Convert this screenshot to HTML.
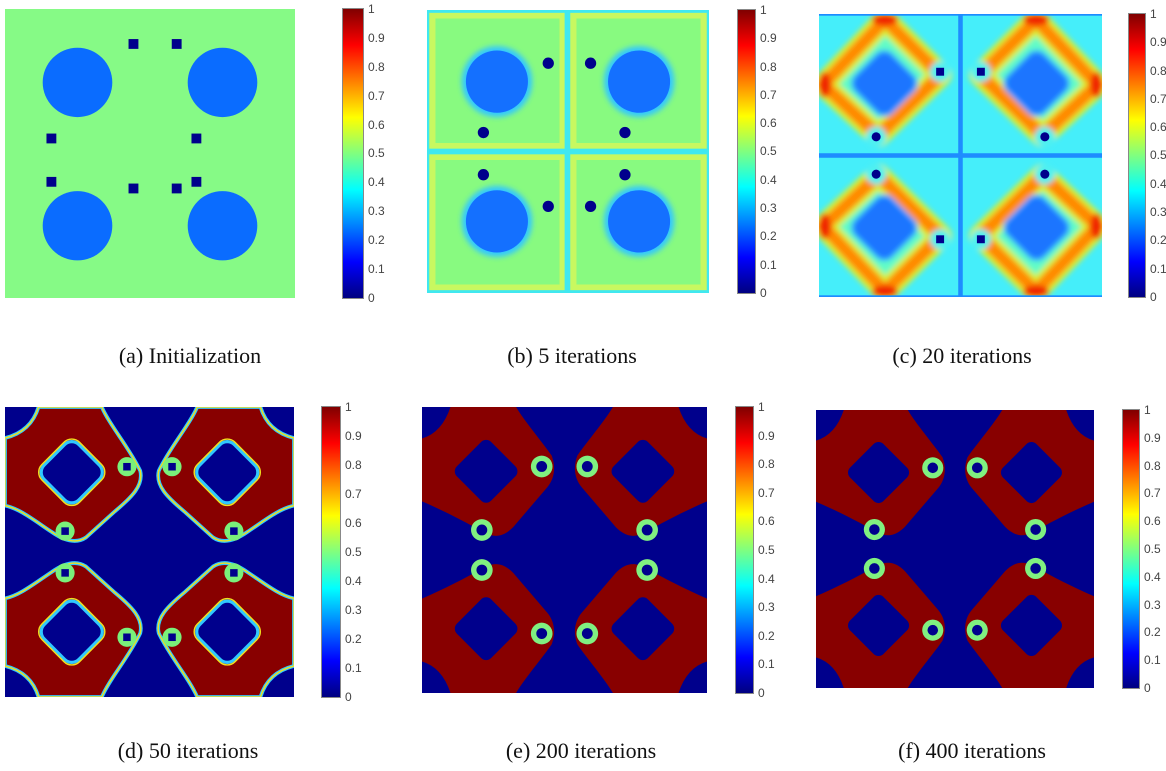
<!DOCTYPE html>
<html><head><meta charset="utf-8">
<style>
body{margin:0;background:#fff;width:1166px;height:771px;position:relative;overflow:hidden;font-family:"Liberation Sans",sans-serif}
.p{position:absolute}
.cb{position:absolute;background:linear-gradient(to top,#000080 0%,#0000ff 12.5%,#00ffff 37.5%,#ffff00 62.5%,#ff0000 87.5%,#800000 100%);outline:1px solid #888}
.lb{position:absolute;display:flex;flex-direction:column;justify-content:space-between;font-size:12px;line-height:12px;color:#444}
.cap{position:absolute;font-family:"Liberation Serif",serif;font-size:22px;color:#111;white-space:nowrap;transform:translateX(-50%)}
</style></head><body>

<svg width="0" height="0" style="position:absolute">
<defs>
<filter id="bl" x="-20%" y="-20%" width="140%" height="140%"><feGaussianBlur stdDeviation="0.9"/></filter>
<symbol id="qc" viewBox="0 0 100 100" overflow="visible">
 <g filter="url(#bl)">
  <polygon points="23.3,2 43,21.5 21,43 1.5,25" fill="#60fcc8" stroke="#d8f030" stroke-width="8" stroke-linejoin="round"/>
  <polygon points="23.3,2 43,21.5 21,43 1.5,25" fill="none" stroke="#ff8a00" stroke-width="4.5" stroke-linejoin="round"/>
  <ellipse cx="23.3" cy="2" rx="4.5" ry="2.2" fill="#f02800"/>
  <ellipse cx="2" cy="25" rx="2.2" ry="4.5" fill="#f02800"/>
  <rect x="-9.5" y="-9.5" width="19" height="19" rx="4" fill="#2aa8ff" transform="translate(23.1,24.5) rotate(45)"/>
  <rect x="-8.5" y="-8.5" width="17" height="17" rx="3.5" fill="#1a74ff" transform="translate(23.1,24.5) rotate(45)"/>
  <circle cx="42.8" cy="20.4" r="3.6" fill="#50f0f0"/>
  <circle cx="20.2" cy="43.4" r="3.6" fill="#50f0f0"/>
 </g>
 <rect x="41.4" y="19" width="2.8" height="2.8" fill="#00008c"/>
 <circle cx="20.2" cy="43.4" r="1.6" fill="#00008c"/>
</symbol>
<symbol id="qd" viewBox="0 0 100 100" overflow="visible">
 <path d="M11.6 0 L33.5 0 C36 6 43 14 46.8 22 C48 27 44 31 38 36 L28 45 C25 47 21 46.5 16 43 C10 39 5 35 0 34 L0 10.7 Q9 8.5 11.6 0 Z" fill="#880000" stroke="#30c8ff" stroke-width="1.3"/>
 <path d="M11.6 0 L33.5 0 C36 6 43 14 46.8 22 C48 27 44 31 38 36 L28 45 C25 47 21 46.5 16 43 C10 39 5 35 0 34 L0 10.7 Q9 8.5 11.6 0 Z" fill="none" stroke="#f0e020" stroke-width="0.5"/>
 <rect x="-8.5" y="-8.5" width="17" height="17" rx="3.5" fill="#00008c" stroke="#30c8ff" stroke-width="1.1" transform="translate(23.1,22.5) rotate(45)"/>
 <rect x="-9.2" y="-9.2" width="18.4" height="18.4" rx="3.8" fill="none" stroke="#f0e020" stroke-width="0.5" transform="translate(23.1,22.5) rotate(45)"/>
 <circle cx="42.2" cy="20.6" r="3.3" fill="#7af07a"/>
 <circle cx="20.8" cy="42.8" r="3.3" fill="#7af07a"/>
 <rect x="40.9" y="19.3" width="2.6" height="2.6" fill="#00008c"/>
 <rect x="19.5" y="41.5" width="2.6" height="2.6" fill="#00008c"/>
</symbol>
<symbol id="qe" viewBox="0 0 100 100" overflow="visible">
 <path d="M10 0 L33 0 C36 5 42 12 45.5 17 C47 21 46.5 25 44 28 L32 42 C29 45 26 46 22 44 C15 40 7 36 0 33 L0 11 Q7 9 10 0 Z" fill="#880000"/>
 <rect x="-8.5" y="-8.5" width="17" height="17" rx="2.5" fill="#00008c" transform="translate(22.5,22.5) rotate(45)"/>
 <circle cx="42" cy="20.8" r="3.8" fill="#80f080"/>
 <circle cx="21" cy="43" r="3.8" fill="#80f080"/>
 <circle cx="42" cy="20.8" r="1.9" fill="#00008c"/>
 <circle cx="21" cy="43" r="1.9" fill="#00008c"/>
</symbol>
</defs></svg>

<!-- (a) -->
<svg class="p" style="left:5px;top:9px;width:290px;height:289px" viewBox="0 0 100 100" preserveAspectRatio="none">
<rect width="100" height="100" fill="#86fa86"/>
<g fill="#0a6cff"><circle cx="25" cy="25.4" r="12"/><circle cx="75" cy="25.4" r="12"/><circle cx="25" cy="75" r="12"/><circle cx="75" cy="75" r="12"/></g>
<g fill="#00008c">
<rect x="42.6" y="10.4" width="3.4" height="3.4"/><rect x="57.5" y="10.4" width="3.4" height="3.4"/>
<rect x="14.3" y="43.1" width="3.4" height="3.4"/><rect x="64.3" y="43.1" width="3.4" height="3.4"/>
<rect x="14.3" y="58.1" width="3.4" height="3.4"/><rect x="64.3" y="58.1" width="3.4" height="3.4"/>
<rect x="42.6" y="60.4" width="3.4" height="3.4"/><rect x="57.5" y="60.4" width="3.4" height="3.4"/>
</g></svg>
<div class="cb" style="left:343px;top:9px;width:20px;height:289px"></div>
<div class="lb" style="left:368px;top:3px;height:301px"><span>1</span><span>0.9</span><span>0.8</span><span>0.7</span><span>0.6</span><span>0.5</span><span>0.4</span><span>0.3</span><span>0.2</span><span>0.1</span><span>0</span></div>

<!-- (b) -->
<svg class="p" style="left:427px;top:10px;width:282px;height:283px" viewBox="0 0 100 100" preserveAspectRatio="none">
<rect width="100" height="100" fill="#c8f860"/>
<g fill="#88fa80"><rect x="3" y="3" width="44" height="44"/><rect x="53" y="3" width="44" height="44"/><rect x="3" y="53" width="44" height="44"/><rect x="53" y="53" width="44" height="44"/></g>
<g fill="#40e8f0"><rect x="0" y="0" width="100" height="1"/><rect x="0" y="99" width="100" height="1"/><rect x="0" y="0" width="0.8" height="100"/><rect x="99.2" y="0" width="0.8" height="100"/><rect x="48.8" y="0" width="2" height="100"/><rect x="0" y="49" width="100" height="2"/></g>
<g filter="url(#bl)"><g fill="#30c8ff"><circle cx="24.8" cy="25.3" r="12.5"/><circle cx="75.2" cy="25.3" r="12.5"/><circle cx="24.8" cy="74.7" r="12.5"/><circle cx="75.2" cy="74.7" r="12.5"/></g></g>
<g fill="#1470ff"><circle cx="24.8" cy="25.3" r="11"/><circle cx="75.2" cy="25.3" r="11"/><circle cx="24.8" cy="74.7" r="11"/><circle cx="75.2" cy="74.7" r="11"/></g>
<g fill="#00008c"><circle cx="43" cy="18.8" r="2"/><circle cx="58" cy="18.8" r="2"/><circle cx="20" cy="43.3" r="2"/><circle cx="70.2" cy="43.3" r="2"/><circle cx="20" cy="58.2" r="2"/><circle cx="70.2" cy="58.2" r="2"/><circle cx="43" cy="69.4" r="2"/><circle cx="58" cy="69.4" r="2"/></g>
</svg>
<div class="cb" style="left:738px;top:10px;width:17px;height:283px"></div>
<div class="lb" style="left:760px;top:4px;height:295px"><span>1</span><span>0.9</span><span>0.8</span><span>0.7</span><span>0.6</span><span>0.5</span><span>0.4</span><span>0.3</span><span>0.2</span><span>0.1</span><span>0</span></div>

<!-- (c) -->
<svg class="p" style="left:819px;top:14px;width:283px;height:283px" viewBox="0 0 100 100" preserveAspectRatio="none">
<rect width="100" height="100" fill="#45eefa"/>
<use href="#qc" x="0" y="0" width="100" height="100"/>
<use href="#qc" x="0" y="0" width="100" height="100" transform="translate(100,0) scale(-1,1)"/>
<use href="#qc" x="0" y="0" width="100" height="100" transform="translate(0,100) scale(1,-1)"/>
<use href="#qc" x="0" y="0" width="100" height="100" transform="translate(100,100) scale(-1,-1)"/>
<g fill="#1e8cff"><rect x="49.2" y="0" width="1.6" height="100"/><rect x="0" y="49.2" width="100" height="1.6"/><rect x="0" y="0" width="100" height="0.6"/><rect x="0" y="99.4" width="100" height="0.6"/></g>
</svg>
<div class="cb" style="left:1129px;top:14px;width:16px;height:283px"></div>
<div class="lb" style="left:1150px;top:8px;height:295px"><span>1</span><span>0.9</span><span>0.8</span><span>0.7</span><span>0.6</span><span>0.5</span><span>0.4</span><span>0.3</span><span>0.2</span><span>0.1</span><span>0</span></div>

<!-- (d) -->
<svg class="p" style="left:5px;top:407px;width:289px;height:290px" viewBox="0 0 100 100" preserveAspectRatio="none">
<rect width="100" height="100" fill="#00008c"/>
<use href="#qd" width="100" height="100"/>
<use href="#qd" width="100" height="100" transform="translate(100,0) scale(-1,1)"/>
<use href="#qd" width="100" height="100" transform="translate(0,100) scale(1,-1)"/>
<use href="#qd" width="100" height="100" transform="translate(100,100) scale(-1,-1)"/>
</svg>
<div class="cb" style="left:322px;top:407px;width:18px;height:290px"></div>
<div class="lb" style="left:345px;top:401px;height:302px"><span>1</span><span>0.9</span><span>0.8</span><span>0.7</span><span>0.6</span><span>0.5</span><span>0.4</span><span>0.3</span><span>0.2</span><span>0.1</span><span>0</span></div>

<!-- (e) -->
<svg class="p" style="left:422px;top:407px;width:285px;height:286px" viewBox="0 0 100 100" preserveAspectRatio="none">
<rect width="100" height="100" fill="#00008c"/>
<use href="#qe" width="100" height="100"/>
<use href="#qe" width="100" height="100" transform="translate(100,0) scale(-1,1)"/>
<use href="#qe" width="100" height="100" transform="translate(0,100) scale(1,-1)"/>
<use href="#qe" width="100" height="100" transform="translate(100,100) scale(-1,-1)"/>
</svg>
<div class="cb" style="left:736px;top:407px;width:17px;height:286px"></div>
<div class="lb" style="left:758px;top:401px;height:298px"><span>1</span><span>0.9</span><span>0.8</span><span>0.7</span><span>0.6</span><span>0.5</span><span>0.4</span><span>0.3</span><span>0.2</span><span>0.1</span><span>0</span></div>

<!-- (f) -->
<svg class="p" style="left:816px;top:410px;width:278px;height:278px" viewBox="0 0 100 100" preserveAspectRatio="none">
<rect width="100" height="100" fill="#00008c"/>
<use href="#qe" width="100" height="100"/>
<use href="#qe" width="100" height="100" transform="translate(100,0) scale(-1,1)"/>
<use href="#qe" width="100" height="100" transform="translate(0,100) scale(1,-1)"/>
<use href="#qe" width="100" height="100" transform="translate(100,100) scale(-1,-1)"/>
</svg>
<div class="cb" style="left:1123px;top:410px;width:16px;height:278px"></div>
<div class="lb" style="left:1144px;top:404px;height:290px"><span>1</span><span>0.9</span><span>0.8</span><span>0.7</span><span>0.6</span><span>0.5</span><span>0.4</span><span>0.3</span><span>0.2</span><span>0.1</span><span>0</span></div>

<div class="cap" style="left:190px;top:343px">(a) Initialization</div>
<div class="cap" style="left:572px;top:343px">(b) 5 iterations</div>
<div class="cap" style="left:962px;top:343px">(c) 20 iterations</div>
<div class="cap" style="left:188px;top:738px">(d) 50 iterations</div>
<div class="cap" style="left:581px;top:738px">(e) 200 iterations</div>
<div class="cap" style="left:972px;top:738px">(f) 400 iterations</div>
</body></html>
